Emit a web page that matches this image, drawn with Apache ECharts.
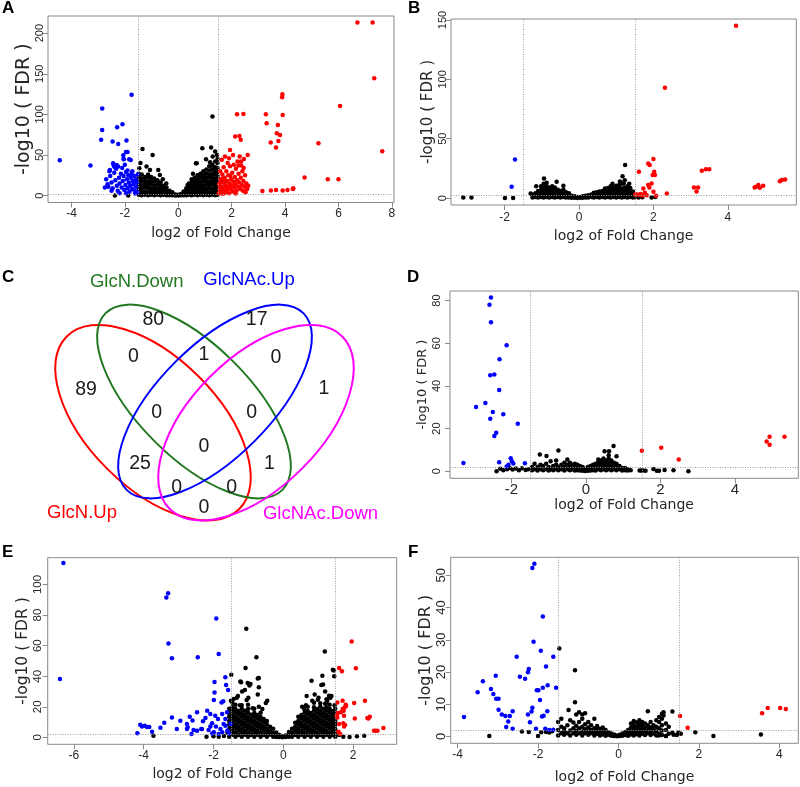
<!DOCTYPE html>
<html>
<head>
<meta charset="utf-8">
<script src="https://cdn.jsdelivr.net/npm/echarts@6/dist/echarts.min.js"></script>
<style>
html, body { margin: 0; padding: 0; background: #fff; }
#chart { width: 800px; height: 787px; }
</style>
</head>
<body>
<div id="chart"></div>
<script>
// ---- tick labels ----
const aXTicks = [-4, -2, 0, 2, 4, 6, 8];
const aYTicks = [0, 50, 100, 150, 200];
const bXTicks = [-2, 0, 2, 4];
const bYTicks = [0, 50, 100, 150];
const dXTicks = [-2, 0, 2, 4];
const dYTicks = [0, 20, 40, 60, 80];
const eXTicks = [-6, -4, -2, 0, 2];
const eYTicks = [0, 20, 40, 60, 80, 100];
const fXTicks = [-4, -2, 0, 2, 4];
const fYTicks = [0, 10, 20, 30, 40, 50];

// ---- panel A: [log2FC, -log10 FDR] ----
// dense non-significant cloud, as columns [x, [y...]]
const aNsCols = [
  [-1.48, [1, 5, 9, 14, 18, 23, 27]], [-1.37, [0.5, 4, 8, 12, 17, 21, 26]],
  [-1.25, [1, 5, 10, 14, 18, 23]], [-1.13, [0.5, 4, 9, 13, 17, 22, 26]],
  [-1.02, [1, 5, 9, 14, 18, 23]], [-0.9, [0.5, 4, 8, 12, 17, 21]],
  [-0.78, [1, 5, 9, 14, 19]], [-0.66, [0.5, 4, 8, 12, 16]],
  [-0.55, [1, 4, 8, 12]], [-0.44, [0.5, 3, 6, 10]], [-0.33, [0.5, 3, 6]],
  [-0.22, [0.3, 2, 4]], [-0.11, [0.2, 1.5]], [0, [0.1, 1]], [0.1, [0.3, 2]],
  [0.2, [0.5, 3, 5]], [0.3, [0.5, 3, 6, 9]], [0.4, [1, 4, 8, 12, 15]],
  [0.5, [0.5, 4, 8, 12, 16, 20]], [0.61, [1, 5, 9, 13, 17, 22]],
  [0.72, [0.5, 4, 8, 12, 16, 20, 25]], [0.83, [1, 5, 9, 13, 17, 22, 27]],
  [0.94, [0.5, 4, 8, 12, 17, 21, 25, 30]], [1.05, [1, 5, 9, 14, 18, 22, 27, 32]],
  [1.16, [0.5, 4, 9, 13, 17, 22, 26, 31, 36]], [1.27, [1, 5, 9, 14, 18, 23, 27, 32, 38]],
  [1.38, [0.5, 4, 8, 13, 17, 21, 26, 30, 35, 42]], [1.47, [1, 6, 10, 15, 19, 24, 29, 34, 40, 45]]
];
const aNsPts = [[-1.19, 35.7], [-1.06, 31.6], [-0.75, 31.6], [-0.69, 25.5], [-1.34, 57.5], [-0.96, 50],
  [0.9, 58.4], [1.23, 59.1], [1.28, 97.3], [0.66, 39.9], [1.04, 44.8], [1.19, 41], [1.29, 48], [1.38, 54.2],
  [1.31, 35.7], [0.69, 39.8], [-2.375, 0], [-1.875, 0], [-1.46, 33.7], [-1.42, 40], [1.45, 50],
  [-0.58, 20], [-0.45, 15], [0.35, 13], [0.55, 27]];
const aDown = [[-4.44, 43.5], [-3.29, 36.9], [-2.85, 107.1], [-2.85, 80.9], [-2.89, 68.6], [-1.75, 124],
  [-2.09, 87.8], [-2.29, 84.2], [-2.46, 66.5], [-2.25, 63.6], [-1.94, 67.7], [-1.9, 53.8], [-1.96, 53.8],
  [-2.06, 49.7], [-2.04, 44.7], [-1.84, 44.7], [-1.78, 43.9], [-2.44, 39.8], [-2.31, 37.8], [-2.38, 34.9],
  [-2.25, 35.7], [-2.56, 31.6], [-2.7, 20], [-2.62, 11], [-2.55, 24], [-2.5, 16], [-2.46, 9], [-2.4, 28],
  [-2.36, 19], [-2.3, 12], [-2.27, 6], [-2.22, 22], [-2.2, 15], [-2.15, 27], [-2.12, 10], [-2.08, 18],
  [-2.05, 24], [-2.02, 7], [-1.98, 13], [-1.96, 29], [-1.93, 20], [-1.9, 9], [-1.87, 25], [-1.85, 16],
  [-1.82, 5], [-1.8, 12], [-1.78, 22], [-1.75, 27], [-1.72, 8], [-1.7, 18], [-1.68, 14], [-1.65, 24],
  [-1.63, 6], [-1.6, 20], [-1.58, 11], [-1.55, 16], [-1.53, 4], [-1.52, 26], [-2.58, 30], [-2.33, 33],
  [-2.0, 38], [-1.9, 31], [-2.1, 34], [-1.72, 30], [-2.65, 14], [-2.5, 6], [-2.2, 3], [-1.95, 3],
  [-1.62, 2.5], [-2.05, 45], [-2.75, 10], [-2.42, 37]];
const aUp = [[6.71, 213], [7.28, 213], [7.34, 144.5], [7.64, 54.6], [6.06, 110.4], [5.25, 64.4], [4.73, 22.2],
  [5.6, 20.1], [6.0, 20.1], [3.9, 124.8], [3.89, 121], [3.91, 99.3], [3.28, 100.2], [3.31, 89], [3.73, 87],
  [3.69, 76.8], [3.81, 74.7], [3.46, 65.3], [3.75, 67.3], [3.66, 59.1], [3.15, 5.7], [3.47, 6.2], [3.66, 7],
  [3.91, 6.2], [4.09, 7], [4.29, 8.2], [4.31, 9], [2.2, 100.2], [2.44, 100.6], [2.13, 72.7], [2.29, 73.5],
  [2.34, 68.6], [1.94, 56.2], [1.52, 3], [1.55, 8], [1.53, 14], [1.58, 20], [1.6, 4], [1.62, 11], [1.65, 26],
  [1.66, 6], [1.68, 16], [1.7, 2.5], [1.72, 9], [1.74, 22], [1.76, 13], [1.78, 4], [1.8, 30], [1.82, 7],
  [1.84, 18], [1.86, 11], [1.88, 25], [1.9, 3], [1.92, 15], [1.94, 36], [1.96, 8], [1.98, 20], [2.0, 12],
  [2.02, 28], [2.04, 5], [2.06, 17], [2.08, 38], [2.1, 10], [2.12, 23], [2.14, 14], [2.16, 33], [2.18, 6],
  [2.2, 19], [2.22, 42], [2.24, 11], [2.26, 27], [2.28, 16], [2.3, 48], [2.32, 8], [2.34, 22], [2.36, 37],
  [2.38, 13], [2.4, 30], [2.42, 6], [2.44, 18], [2.46, 45], [2.48, 11], [2.5, 25], [2.52, 4], [2.55, 15],
  [2.58, 8], [2.6, 50], [2.62, 12], [1.57, 30], [1.63, 44], [1.7, 35], [1.75, 48], [1.85, 40], [1.6, 17],
  [1.67, 21], [2.05, 50], [2.25, 37], [2.35, 42], [1.9, 46], [1.58, 10], [1.64, 2.5], [1.73, 18], [1.95, 24],
  [2.15, 2.5], [2.45, 34]];

// ---- panel B ----
const bNsCols = [
  [-1.25, [0.5, 3]], [-1.17, [1, 4]], [-1.1, [0.5, 3, 6]], [-1.02, [1, 4, 7, 10]],
  [-0.95, [0.5, 3, 6, 9, 12]], [-0.87, [1, 4, 7, 10, 13]], [-0.8, [0.5, 3, 6, 9]],
  [-0.72, [1, 4, 7, 10]], [-0.65, [0.5, 3, 6, 9]], [-0.57, [1, 4, 7]], [-0.5, [0.5, 3, 6]],
  [-0.42, [1, 4, 7, 10.4]], [-0.35, [0.5, 3, 5]], [-0.27, [0.5, 2, 4]], [-0.2, [0.3, 2]],
  [-0.12, [0.3, 1.5]], [-0.05, [0.1, 1]], [0.03, [0.2, 1]], [0.1, [0.3, 1.5]], [0.18, [0.5, 2]],
  [0.25, [0.5, 2.5]], [0.33, [1, 3]], [0.4, [0.5, 2.5, 4.5]], [0.48, [1, 3, 5]], [0.55, [0.5, 3, 5.5]],
  [0.63, [1, 3.5, 6]], [0.7, [0.5, 3, 5.5, 8]], [0.78, [1, 3.5, 6, 8.5]], [0.85, [0.5, 3, 5.5, 8, 10]],
  [0.93, [1, 3.5, 6, 9]], [1.0, [0.5, 3, 5.5, 8, 10.5]], [1.08, [1, 3.5, 6, 8.5, 11]],
  [1.15, [0.5, 3, 5.5, 8, 12]], [1.23, [1, 3.5, 6, 9, 15]], [1.3, [0.5, 3, 5.5, 8, 10]],
  [1.38, [1, 3.5, 6, 8.5]], [1.45, [0.5, 3, 5.5]]
];
const bNsPts = [[-0.94, 16.6], [-0.6, 13.8], [1.24, 27.8], [1.17, 18.5], [-1.15, 10], [-3.11, 0.6], [-2.89, 0.6],
  [-1.99, 0], [-1.77, 0], [-1.3, 3.9], [1.1, 14], [1.5, 1], [1.6, 0.5], [1.7, 0.8], [2.05, 1], [1.95, 0.5],
  [1.35, 12], [0.9, 12], [1.2, 12.5]];
const bDown = [[-1.72, 32.6], [-1.81, 9.6]];
const bUp = [[4.22, 145.2], [2.31, 93], [5.45, 15.2], [5.54, 15.7], [5.4, 14.3], [4.76, 9.6], [4.82, 11],
  [4.95, 10.4], [4.86, 8.7], [4.72, 9], [3.41, 24.4], [3.5, 24.4], [3.3, 23], [3.09, 9], [3.2, 9], [3.16, 5.6],
  [2.0, 32.9], [1.86, 29.2], [1.9, 27.8], [2.02, 22.2], [2.04, 19.4], [1.98, 19.4], [1.61, 22.2], [1.95, 12.4],
  [1.86, 11], [1.89, 9], [1.73, 8.1], [1.77, 4.5], [2.0, 5.3], [2.36, 3.9], [1.51, 3.1], [1.56, 3.1],
  [1.62, 2.8], [2.07, 2.0], [1.82, 2.5], [1.66, 3.5], [1.7, 2.2]];

// ---- panel D ----
const dNsCols = [
  [-1.45, [0.5, 2]], [-1.38, [1, 3.5]], [-1.3, [0.3, 2]], [-1.22, [1, 3]], [-1.15, [0.5, 2.5]],
  [-1.07, [1, 3.5]], [-1.0, [0.3, 2]], [-0.95, [1, 4.7]], [-0.88, [0.5, 2.5]], [-0.8, [1, 3, 5]],
  [-0.74, [0.5, 2]], [-0.66, [1, 3]], [-0.58, [0.3, 2, 4]], [-0.5, [1, 3, 5.5]], [-0.43, [0.5, 2, 4]],
  [-0.36, [1, 3]], [-0.3, [0.3, 2, 3.5]], [-0.23, [0.5, 1.5, 3]], [-0.16, [0.3, 1.5, 2.5]],
  [-0.09, [0.2, 1, 2]], [-0.02, [0.1, 1]], [0.05, [0.2, 1, 2]], [0.12, [0.3, 1.5, 2.5]],
  [0.19, [0.5, 1.5, 3]], [0.26, [0.3, 2, 3.5]], [0.33, [1, 2.5, 4, 5.5]], [0.4, [0.5, 2, 3.5, 5]],
  [0.47, [1, 2.5, 4, 6]], [0.54, [0.5, 2, 3.5, 5]], [0.61, [1, 2.5, 4, 6, 7.5]], [0.68, [0.5, 2, 3.5, 5]],
  [0.75, [1, 2.5, 4]], [0.82, [0.5, 2, 3.5, 7]], [0.9, [1, 2.5]], [0.97, [0.3, 1.5]], [1.05, [0.5, 1.5]],
  [1.12, [0.3, 1]], [1.2, [0.5]]
];
const dNsPts = [[-1.24, 7.8], [-1.06, 7.1], [-0.74, 9.7], [0.5, 9.4], [0.62, 9.4], [0.74, 11.8],
  [-2.4, 0], [-2.3, 1.2], [-2.22, 0.5], [-2.12, 1], [-2.05, 1.5], [-1.97, 0.8], [-1.88, 1.3], [-1.8, 0.5],
  [-1.72, 1.4], [-1.62, 0.6], [-1.55, 1], [1.44, 0.3], [1.49, 0.3], [1.53, 0.3], [1.81, 1.1], [1.9, 0.2],
  [1.96, 0.2], [2.11, 0.6], [2.35, 0.5], [2.75, 0], [1.6, 0.2]];
const dDown = [[-2.55, 81.4], [-2.59, 78], [-2.55, 69.8], [-2.13, 59.1], [-2.32, 52.5], [-2.57, 45],
  [-2.46, 45.3], [-2.33, 38.1], [-2.7, 32], [-2.95, 30.1], [-2.5, 27.8], [-2.22, 26.7], [-2.57, 24.6],
  [-1.83, 22.3], [-2.41, 18], [-2.46, 16.5], [-3.29, 3.9], [-2.33, 4.2], [-2.02, 6.1], [-1.99, 4.7],
  [-1.95, 3.6], [-2.08, 3.1], [-2.13, 2.2], [-1.64, 3.8]];
const dUp = [[1.5, 9.6], [2.02, 11], [2.49, 5.5], [4.93, 16.2], [5.33, 16.2], [4.85, 14], [4.93, 12.4]];

// ---- panel E ----
const eNsCols = [
  [-1.55, [0.4, 3.1, 5.5, 8.3, 10.7, 13.5, 15.9, 18.7]],
  [-1.46, [1.7, 4.2, 7, 9.4, 12.2, 14.6, 17.4, 19.8, 22.6]],
  [-1.37, [0.5, 2.9, 5.7, 8.1, 10.9, 13.3, 16.1, 18.5, 21.3]],
  [-1.28, [1.6, 4.4, 6.8, 9.6, 12, 14.8, 17.2]],
  [-1.19, [0.4, 3.1, 5.5, 8.3, 10.7, 13.5, 15.9, 18.7, 21.1]],
  [-1.1, [1.7, 4.2, 7, 9.4, 12.2, 14.6, 17.4]],
  [-1.01, [0.5, 2.9, 5.7, 8.1, 10.9, 13.3, 16.1, 18.5, 21.3]],
  [-0.92, [1.6, 4.4, 6.8, 9.6, 12, 14.8]],
  [-0.83, [0.4, 3.1, 5.5, 8.3, 10.7, 13.5, 15.9, 18.7]],
  [-0.74, [1.7, 4.2, 7, 9.4, 12.2, 14.6]],
  [-0.65, [0.5, 2.9, 5.7, 8.1, 10.9, 13.3, 16.1]],
  [-0.56, [1.6, 4.4, 6.8, 9.6, 12]],
  [-0.47, [0.4, 3.1, 5.5, 8.3, 10.7]],
  [-0.38, [1.7, 4.2, 7]], [-0.29, [0.5, 2.9, 5.7]], [-0.2, [0.3, 1.7, 3.2]],
  [-0.11, [0.2, 1.5]], [-0.02, [0.1, 0.8]], [0.07, [0.2, 1.3]], [0.16, [0.4, 2, 3.6]],
  [0.25, [0.5, 2.9, 5.7]], [0.34, [1.6, 4.4, 6.8, 9.6]],
  [0.43, [0.4, 3.1, 5.5, 8.3, 10.7, 13.5]],
  [0.52, [1.7, 4.2, 7, 9.4, 12.2, 14.6]],
  [0.61, [0.5, 2.9, 5.7, 8.1, 10.9, 13.3, 16.1]],
  [0.7, [1.6, 4.4, 6.8, 9.6, 12, 14.8, 17.2, 20]],
  [0.79, [0.4, 3.1, 5.5, 8.3, 10.7, 13.5, 15.9]],
  [0.88, [1.7, 4.2, 7, 9.4, 12.2, 14.6, 17.4, 19.8, 22.6]],
  [0.97, [0.5, 2.9, 5.7, 8.1, 10.9, 13.3, 16.1, 18.5]],
  [1.06, [1.6, 4.4, 6.8, 9.6, 12, 14.8, 17.2, 20, 22.4]],
  [1.15, [0.4, 3.1, 5.5, 8.3, 10.7, 13.5, 15.9, 18.7]],
  [1.24, [1.7, 4.2, 7, 9.4, 12.2, 14.6, 17.4, 19.8, 22.6, 25]],
  [1.33, [0.5, 2.9, 5.7, 8.1, 10.9, 13.3, 16.1, 18.5, 21.3]],
  [1.42, [1.6, 4.4, 6.8, 9.6, 12, 14.8, 17.2]],
  [1.49, [0.4, 3.1, 5.5, 8.3, 10.7, 13.5, 15.9, 18.7]]
];
const eNsPts = [[-1.06, 71], [-1.08, 45.4], [-0.77, 52.4], [1.19, 56.1], [1.42, 44.3], [1.12, 40.4],
  [1.14, 34.6], [0.81, 37.1], [1.45, 43.7], [1.46, 40], [-0.7, 38.9], [-0.73, 38.6], [-1.23, 36.5],
  [-1.21, 36], [-1.02, 35.6], [-0.94, 35], [-0.97, 34], [-1.49, 41], [-1.42, 25.1], [-1.18, 30.1],
  [-1.1, 31], [-0.7, 32.8], [-0.73, 28], [-0.46, 24], [-0.5, 22.5], [1.09, 34.3], [1.31, 27.3], [1.35, 26],
  [0.67, 27.1], [0.99, 24.7], [1.26, 24.1], [0.54, 20], [0.6, 18.5], [2.11, 0.7], [2.32, 1.1], [1.6, 1.5],
  [1.72, 0.5], [1.9, 0.3], [-3.72, 1.1], [-1.6, 3], [-1.7, 1], [-1.85, 0.5], [-2.0, 0.7], [-2.2, 0.4],
  [-1.3, 27], [-1.0, 26], [0.9, 28], [1.2, 30], [-1.5, 24], [-1.33, 26], [-1.24, 21], [-1.05, 24.5],
  [-0.88, 19], [-0.7, 20], [-0.6, 18.5], [0.65, 21], [0.83, 24], [1.01, 26], [1.2, 22], [1.38, 27], [1.47, 21]];
const eDown = [[-6.3, 114], [-6.4, 38.2], [-3.3, 94.3], [-3.35, 91.5], [-3.29, 61.4], [-3.19, 51.7],
  [-2.45, 52.4], [-1.92, 77.8], [-1.85, 54.6], [-1.66, 39.3], [-1.64, 34.3], [-1.58, 31], [-1.97, 36.3],
  [-1.97, 29.3], [-1.99, 24.5], [-1.72, 23.6], [-1.77, 22.9], [-2.18, 17.5], [-2.09, 15.3], [-2.47, 16.4],
  [-3.19, 13.1], [-2.95, 10.9], [-2.68, 13.5], [-1.95, 14.2], [-1.87, 12], [-1.75, 15.3], [-2.23, 12.7],
  [-2.04, 9.2], [-1.71, 8.8], [-2.09, 7.2], [-1.93, 7.2], [-1.8, 5.5], [-4.1, 8.3], [-4.05, 7.2],
  [-3.97, 7.6], [-3.9, 6.8], [-3.84, 6.8], [-4.18, 2.8], [-3.76, 3.7], [-3.52, 6.3], [-3.41, 9.6],
  [-3.05, 5.5], [-2.76, 8.7], [-2.76, 5.5], [-2.74, 6.6], [-2.63, 2.2], [-2.57, 4.8], [-2.47, 4.4],
  [-2.35, 5.5], [-2.33, 5.5], [-2.14, 4.8], [-2.04, 2.6], [-1.99, 3.3], [-1.85, 2.3], [-1.75, 3.3],
  [-1.66, 12], [-1.61, 16.4], [-1.51, 8.7], [-1.66, 7.7], [-1.6, 4.5], [-1.55, 2.5], [-2.3, 10.5], [-2.6, 11]];
const eUp = [[1.96, 62.7], [2.08, 45.2], [1.6, 45.4], [1.68, 43.2], [2.34, 24], [2.03, 22.5], [1.7, 24],
  [1.79, 21.4], [1.76, 19.7], [1.7, 18.6], [1.73, 17.5], [1.55, 22.9], [1.65, 16.4], [1.53, 14.2], [1.55, 13],
  [1.74, 14.2], [2.05, 12.4], [2.41, 12.7], [2.48, 13.5], [2.44, 12.4], [1.6, 8.7], [1.72, 9.2], [1.77, 8.1],
  [1.74, 7.2], [2.87, 6.1], [2.65, 4.4], [2.7, 4.4], [2.6, 4.4], [1.58, 3.7], [1.63, 2.2], [1.8, 20.5], [1.57, 16]];

// ---- panel F ----
const fNsCols = [
  [-1.5, [0.3, 2, 4.5]], [-1.42, [1, 3, 5.5]], [-1.35, [0.5, 1.5, 2.5]], [-1.27, [1, 3.5]],
  [-1.2, [0.3, 1.8, 5]], [-1.12, [1, 2.5, 4.3]], [-1.05, [0.5, 1.7, 3.3, 6.8]], [-0.98, [1, 2.5, 4.5, 7.5]],
  [-0.9, [0.3, 1.5, 3, 5.5, 6.8]], [-0.83, [1, 2.2, 3.8, 7.2]], [-0.75, [0.5, 1.5, 2.8, 4.5]],
  [-0.68, [1, 2, 3.5]], [-0.6, [0.3, 1.2, 2.5, 5.5]], [-0.53, [0.8, 2, 3.2]], [-0.46, [0.3, 1.2, 2.4]],
  [-0.39, [0.6, 1.6, 2.8]], [-0.32, [0.2, 1, 2]], [-0.25, [0.5, 1.3]], [-0.18, [0.2, 0.9]],
  [-0.11, [0.1, 0.6]], [-0.04, [0.05, 0.3]], [0.03, [0.1, 0.5]], [0.1, [0.2, 0.9]], [0.17, [0.4, 1.4]],
  [0.24, [0.2, 1, 2]], [0.31, [0.6, 1.6, 2.8, 4]], [0.38, [0.3, 1.2, 2.3, 3.5, 4.8]],
  [0.45, [0.7, 1.8, 3, 4.3]], [0.52, [0.3, 1.3, 2.5, 3.8, 5]], [0.59, [0.8, 2, 3.2, 4.5]],
  [0.66, [0.4, 1.5, 2.7, 4]], [0.73, [1, 2.2, 3.5, 7.8]], [0.8, [0.4, 1.5, 2.8, 4.5]],
  [0.87, [0.9, 2.2, 3.5]], [0.94, [0.3, 1.5, 3, 5]], [1.01, [0.8, 2.5, 4.5, 6]],
  [1.08, [0.4, 1.8, 3.5, 5.5, 7]], [1.12, [6.5, 7.5]], [1.18, [0.1, 2, 4]], [1.25, [0.8, 3]],
  [1.34, [1.1, 7.7]], [1.37, [0.5]], [1.49, [0.8]]
];
const fNsPts = [[-1.24, 8.2], [-1.47, 27.3], [-1.08, 20.5], [-1.08, 10.6], [-3.21, 0.1], [3.54, 0.6],
  [2.36, 0.1], [1.91, 1.3], [1.18, 0.1], [1.0, 0.3], [-2.4, 1.5], [-2.23, 1.4], [-2.0, 0.1], [-1.8, 1.4],
  [-1.72, 1.2], [-1.92, 1.3], [-1.65, 1.6], [1.49, 1.2], [1.55, 0.8], [1.45, 0.4]];
const fDown = [[-2.09, 53.6], [-2.14, 52.3], [-1.88, 37.2], [-2.11, 29.4], [-2.53, 24.7], [-1.62, 24.7],
  [-1.93, 26.6], [-1.8, 21.7], [-2.23, 20.9], [-2.25, 19.9], [-2.45, 18.5], [-2.32, 17.9], [-3.05, 18.8],
  [-3.37, 17.1], [-3.17, 14.7], [-3.5, 13.7], [-3.11, 13.2], [-3.04, 11.7], [-2.98, 11.7], [-2.03, 14.3],
  [-1.99, 14.3], [-1.88, 15.1], [-1.76, 15.9], [-1.55, 15.1], [-1.95, 11.3], [-2.98, 8.3], [-2.9, 6.8],
  [-2.81, 6.3], [-2.7, 6.3], [-2.63, 7.8], [-2.74, 4.6], [-2.79, 2.9], [-2.63, 2.4], [-3.84, 6.0],
  [-2.25, 6.8], [-2.16, 7.7], [-2.2, 4.4], [-1.9, 6.2], [-1.86, 6.4], [-1.77, 7.8], [-2.05, 2.4],
  [-1.82, 2.4], [-1.72, 2.0], [-1.62, 2.1], [-2.14, 8.9]];
const fUp = [[1.53, 6.3], [1.72, 2.7], [3.57, 7.2], [3.71, 8.8], [4.02, 8.8], [4.16, 8.5]];

// ---- panel C: Venn counts ----
const vennSets = ['GlcN.Up', 'GlcN.Down', 'GlcNAc.Up', 'GlcNAc.Down'];
const vennRegions = ['A', 'B', 'C', 'D', 'AB', 'BC', 'CD', 'ABC', 'BCD', 'ABCD', 'AC', 'BD', 'AD', 'ACD', 'ABD'];
const vennCounts = [89, 80, 17, 1, 0, 1, 0, 0, 0, 0, 25, 1, 0, 0, 0];

// ---------------- layout ----------------
const fcCut = 1.5;
const fdrCut = 2;
const vennColors = ['#ff0000', '#217821', '#0000ff', '#ff00ff'];
const vennEllipses = [
  { x: 153, y: 422.7, rx: 122, ry: 65, rot: -Math.PI / 4 },
  { x: 194, y: 401.5, rx: 125, ry: 56, rot: -Math.PI / 4 },
  { x: 215, y: 401.5, rx: 125, ry: 56, rot: Math.PI / 4 },
  { x: 256, y: 422.7, rx: 122, ry: 65, rot: Math.PI / 4 }
];
const vennSetPos = [[82, 512.5], [136.7, 281.5], [249, 280], [320.5, 514]];
const vennCountPos = [[86, 389.5], [153.3, 319.3], [256.7, 319.3], [324, 388.3], [133.3, 356.7],
  [204, 355], [276, 357.3], [156.7, 412.7], [251.7, 412.7], [204, 446.7], [140, 464],
  [269.3, 464], [204, 507.3], [176.7, 487.7], [231.7, 487.7]];

function cols2pts(cols) {
  return cols.flatMap(([x, ys]) => ys.map(y => [x, y]));
}

const panels = [
  { tag: 'A', tagPos: [2, 8], ns: cols2pts(aNsCols).concat(aNsPts), down: aDown, up: aUp,
    xt: aXTicks, yt: aYTicks, grid: { left: 48, top: 16, width: 346, height: 186.5 },
    xr: [-4.88, 8.08], yr: [-8.5, 221.1], xls: 12, xlm: 5, xng: 24, yls: 11, ylm: 3, yns: 19, yng: 14 },
  { tag: 'B', tagPos: [408, 8], ns: cols2pts(bNsCols).concat(bNsPts), down: bDown, up: bUp,
    xt: bXTicks, yt: bYTicks, grid: { left: 451, top: 19, width: 345.3, height: 186 },
    xr: [-3.44, 5.84], yr: [-5.8, 150.8], xls: 12, xlm: 7, xng: 24, yls: 11, ylm: 3, yns: 15, yng: 13 },
  { tag: 'D', tagPos: [407, 277], ns: cols2pts(dNsCols).concat(dNsPts), down: dDown, up: dUp,
    xt: dXTicks, yt: dYTicks, grid: { left: 450, top: 291, width: 348.3, height: 187.3 },
    xr: [-3.65, 5.70], yr: [-3.3, 84.5], xls: 15, xlm: 4, xng: 20, yls: 11, ylm: 8, yns: 13, yng: 21 },
  { tag: 'E', tagPos: [2, 552.5], ns: cols2pts(eNsCols).concat(eNsPts), down: eDown, up: eUp,
    xt: eXTicks, yt: eYTicks, grid: { left: 47.7, top: 557.7, width: 349, height: 186.6 },
    xr: [-6.75, 3.25], yr: [-4.5, 117.5], xls: 12, xlm: 5, xng: 23, yls: 11.5, ylm: 4, yns: 15.5, yng: 17 },
  { tag: 'F', tagPos: [408, 552.5], ns: cols2pts(fNsCols).concat(fNsPts), down: fDown, up: fUp,
    xt: fXTicks, yt: fYTicks, grid: { left: 450.7, top: 557.3, width: 347.6, height: 186 },
    xr: [-4.17, 4.47], yr: [-2.14, 55.6], xls: 12, xlm: 5, xng: 27, yls: 13, ylm: 3, yns: 16, yng: 13 }
];

const axisGray = '#8a8a8a';
const textDark = '#262626';

const grids = [], xAxes = [], yAxes = [], series = [], graphics = [];

panels.forEach((p, i) => {
  grids.push(Object.assign({ show: true, borderColor: axisGray, borderWidth: 1, backgroundColor: 'transparent' }, p.grid));
  xAxes.push({
    gridIndex: i, type: 'value', min: p.xr[0], max: p.xr[1],
    axisLine: { show: false, onZero: false },
    axisTick: { show: true, length: 5, lineStyle: { color: axisGray }, customValues: p.xt },
    axisLabel: { customValues: p.xt, fontSize: p.xls, margin: p.xlm, color: textDark, fontFamily: 'Liberation Sans' },
    splitLine: { show: false },
    name: 'log2 of Fold Change', nameLocation: 'middle', nameGap: p.xng,
    nameTextStyle: { fontFamily: 'DejaVu Sans', fontSize: 14, color: textDark }
  });
  yAxes.push({
    gridIndex: i, type: 'value', min: p.yr[0], max: p.yr[1],
    axisLine: { show: false, onZero: false },
    axisTick: { show: true, length: 5, lineStyle: { color: axisGray }, customValues: p.yt },
    axisLabel: { customValues: p.yt, rotate: 90, fontSize: p.yls, margin: p.ylm, color: textDark, fontFamily: 'Liberation Sans' },
    splitLine: { show: false },
    name: '-log10 ( FDR )', nameLocation: 'middle', nameRotate: 90, nameGap: p.yng,
    nameTextStyle: { fontFamily: 'DejaVu Sans', fontSize: p.yns, color: textDark }
  });
  const base = { type: 'scatter', xAxisIndex: i, yAxisIndex: i, symbolSize: 4.5, silent: true };
  series.push(Object.assign({}, base, {
    data: p.ns, itemStyle: { color: '#000', opacity: 1 },
    markLine: {
      silent: true, symbol: 'none', label: { show: false }, animation: false,
      lineStyle: { color: '#9c9c9c', type: [1, 1.5], width: 1 },
      data: [{ xAxis: -fcCut }, { xAxis: fcCut }, { yAxis: fdrCut }]
    }
  }));
  series.push(Object.assign({}, base, { data: p.down, itemStyle: { color: '#0000ff', opacity: 1 } }));
  series.push(Object.assign({}, base, { data: p.up, itemStyle: { color: '#ff0000', opacity: 1 } }));
  graphics.push({
    type: 'text', x: p.tagPos[0], y: p.tagPos[1], silent: true,
    style: { text: p.tag, fontSize: 17, fontWeight: 'bold', fontFamily: 'Liberation Sans', fill: '#000', align: 'left', verticalAlign: 'middle' }
  });
});

// panel C: Venn diagram drawn with graphic elements
graphics.push({
  type: 'text', x: 2, y: 277, silent: true,
  style: { text: 'C', fontSize: 17, fontWeight: 'bold', fontFamily: 'Liberation Sans', fill: '#000', align: 'left', verticalAlign: 'middle' }
});
vennEllipses.forEach((e, k) => {
  graphics.push({
    type: 'ellipse', x: e.x, y: e.y, rotation: e.rot, silent: true,
    shape: { cx: 0, cy: 0, rx: e.rx, ry: e.ry },
    style: { fill: 'none', stroke: vennColors[k], lineWidth: 2 }
  });
});
vennSets.forEach((name, k) => {
  graphics.push({
    type: 'text', x: vennSetPos[k][0], y: vennSetPos[k][1], silent: true,
    style: { text: name, fontSize: 18.5, fontFamily: 'Liberation Sans', fill: vennColors[k], align: 'center', verticalAlign: 'middle' }
  });
});
vennCounts.forEach((c, k) => {
  graphics.push({
    type: 'text', x: vennCountPos[k][0], y: vennCountPos[k][1], silent: true,
    style: { text: String(c), fontSize: 19.5, fontFamily: 'Liberation Sans', fill: '#1a1a1a', align: 'center', verticalAlign: 'middle' }
  });
});

const chart = echarts.init(document.getElementById('chart'), null, { renderer: 'canvas' });
chart.setOption({
  animation: false,
  backgroundColor: '#fff',
  grid: grids,
  xAxis: xAxes,
  yAxis: yAxes,
  series: series,
  graphic: graphics
});
</script>
</body>
</html>
